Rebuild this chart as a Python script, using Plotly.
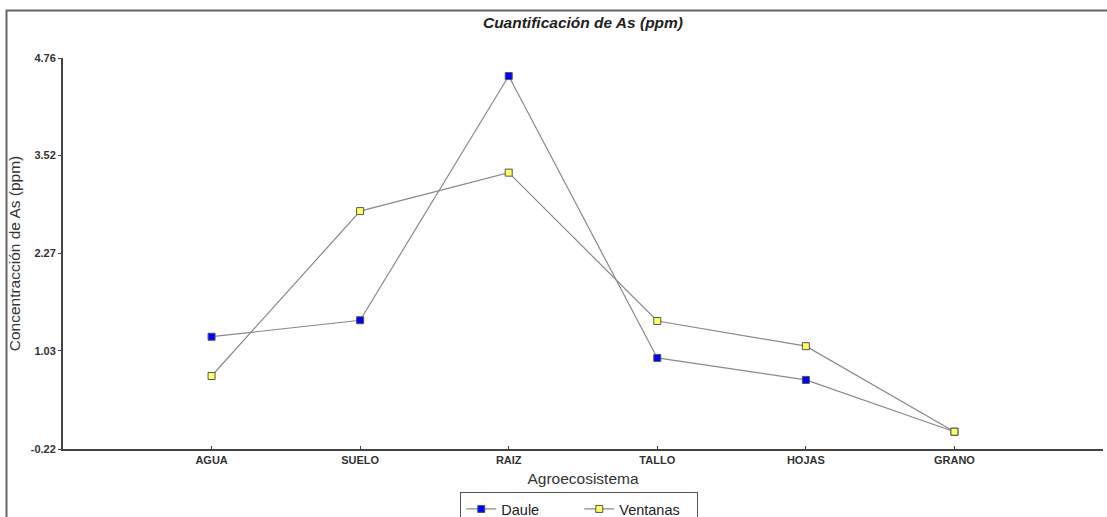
import plotly.graph_objects as go

categories = ["AGUA", "SUELO", "RAIZ", "TALLO", "HOJAS", "GRANO"]
daule = [1.21, 1.42, 4.53, 0.94, 0.66, 0.00]
ventanas = [0.71, 2.81, 3.30, 1.41, 1.09, 0.00]
y_ticks = [-0.22, 1.03, 2.27, 3.52, 4.76]

xpos = list(range(len(categories)))

fig = go.Figure()
fig.add_trace(go.Scatter(
    x=xpos, y=daule, name="Daule", mode="lines+markers",
    line=dict(color="#8a8a8a", width=1.2),
    marker=dict(symbol="square", size=7, color="#0000ff",
                line=dict(color="#555555", width=1)),
))
fig.add_trace(go.Scatter(
    x=xpos, y=ventanas, name="Ventanas", mode="lines+markers",
    line=dict(color="#8a8a8a", width=1.2),
    marker=dict(symbol="square", size=7, color="#ffff66",
                line=dict(color="#555555", width=1)),
))

fig.update_layout(
    width=1107, height=517,
    margin=dict(l=63, r=4, t=58, b=68, autoexpand=False),
    paper_bgcolor="white", plot_bgcolor="white",
    font=dict(family="Liberation Sans, Arial", color="#222222"),
    title=dict(text="<b><i>Cuantificación de As (ppm)</i></b>",
               x=0.5, xref="paper", y=0.957, yref="container",
               xanchor="center", yanchor="middle",
               font=dict(size=15.5, color="#222222")),
    showlegend=True,
    legend=dict(orientation="h", x=0.382, xanchor="left",
                y=(449 - 492) / 391, yanchor="top",
                bordercolor="#555555", borderwidth=1,
                font=dict(size=14.5, color="#222222"),
                entrywidth=73, entrywidthmode="pixels",
                tracegroupgap=0),
    xaxis=dict(range=[-1, 6], tickmode="array",
               tickvals=xpos + [6],
               ticktext=["<b>%s</b>" % c for c in categories] + [""],
               showgrid=False, zeroline=False, automargin=False,
               showline=True, linecolor="#444444", linewidth=2,
               ticks="inside", ticklen=3, tickcolor="#444444",
               tickfont=dict(size=11, color="#333333"),
               title=dict(text="Agroecosistema", font=dict(size=15.5, color="#333333"),
                          standoff=8)),
    yaxis=dict(range=[-0.22, 4.76], tickmode="array",
               tickvals=y_ticks,
               ticktext=["<b>%.2f</b>" % v for v in y_ticks],
               showgrid=False, zeroline=False, automargin=False,
               showline=True, linecolor="#444444", linewidth=2,
               ticks="outside", ticklen=3, tickcolor="#444444",
               tickfont=dict(size=11, color="#333333"),
               title=dict(text="Concentracción de As (ppm)",
                          font=dict(size=15.5, color="#333333"), standoff=6)),
)

# outer frame of the chart
fig.add_shape(type="rect", xref="paper", yref="paper",
              x0=(6.5 - 63) / 1040, x1=1.02,
              y0=-0.3, y1=(449 - 10.5) / 391,
              line=dict(color="#666666", width=2), fillcolor="rgba(0,0,0,0)",
              layer="below")

fig.write_html("out.html")
